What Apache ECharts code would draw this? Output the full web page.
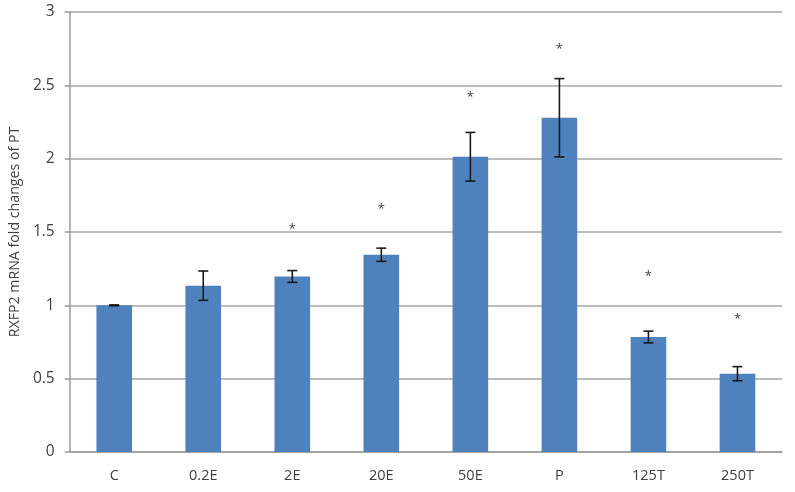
<!DOCTYPE html>
<html>
<head>
<meta charset="utf-8">
<script src="https://cdn.jsdelivr.net/npm/echarts@6/dist/echarts.min.js"></script>
<style>
  html, body { margin: 0; padding: 0; background: #ffffff; }
  #chart { width: 795px; height: 492px; }
</style>
</head>
<body>
<div id="chart"></div>
<script>
var categories = ['C', '0.2E', '2E', '20E', '50E', 'P', '125T', '250T'];
var foldChange = [1.0, 1.134, 1.197, 1.345, 2.013, 2.279, 0.784, 0.534];
var errorSize = [0.003, 0.1, 0.04, 0.045, 0.166, 0.267, 0.04, 0.048];
var asteriskLevel = [null, null, 1.536, 1.677, 2.436, 2.768, 1.218, 0.922];
var yTicks = [0, 0.5, 1, 1.5, 2, 2.5, 3];

var FONT = '"Open Sans", Lato, sans-serif';

var errorData = categories.map(function (c, i) {
  return [i, foldChange[i] - errorSize[i], foldChange[i] + errorSize[i]];
});
var starData = [];
categories.forEach(function (c, i) {
  if (asteriskLevel[i] != null) starData.push([i, asteriskLevel[i]]);
});

var chart = echarts.init(document.getElementById('chart'), null, { renderer: 'canvas' });
chart.setOption({
  animation: false,
  backgroundColor: '#ffffff',
  grid: { left: 69, right: 13, top: 12, bottom: 40, containLabel: false },
  xAxis: {
    type: 'category',
    data: categories,
    axisLine: { show: true, lineStyle: { color: '#999999', width: 1.5 } },
    axisTick: { show: false },
    axisLabel: { color: '#404040', fontSize: 14.5, fontFamily: FONT, margin: 16 },
    splitLine: { show: false }
  },
  yAxis: {
    type: 'value',
    min: yTicks[0],
    max: yTicks[yTicks.length - 1],
    interval: 0.5,
    name: 'RXFP2 mRNA fold changes of PT',
    nameLocation: 'middle',
    nameGap: 42,
    nameRotate: 90,
    nameTextStyle: { color: '#404040', fontSize: 14.2, fontFamily: FONT },
    axisLine: { show: true, lineStyle: { color: '#999999', width: 1.5 } },
    axisTick: { show: true, length: 5, lineStyle: { color: '#999999', width: 1.5 } },
    axisLabel: { color: '#404040', fontSize: 15.5, fontFamily: FONT, margin: 15 },
    splitLine: { show: true, lineStyle: { color: '#a6a6a6', width: 1.5 } }
  },
  series: [
    {
      type: 'bar',
      data: foldChange,
      barWidth: '40%',
      itemStyle: { color: '#4f81bd' },
      z: 2
    },
    {
      type: 'custom',
      data: errorData,
      z: 3,
      renderItem: function (params, api) {
        var x = api.coord([api.value(0), api.value(1)])[0];
        var lo = api.coord([api.value(0), api.value(1)])[1];
        var hi = api.coord([api.value(0), api.value(2)])[1];
        var hw = 5;
        var style = { stroke: '#1a1a1a', lineWidth: 1.6 };
        return {
          type: 'group',
          children: [
            { type: 'line', shape: { x1: x, y1: lo, x2: x, y2: hi }, style: style },
            { type: 'line', shape: { x1: x - hw, y1: lo, x2: x + hw, y2: lo }, style: style },
            { type: 'line', shape: { x1: x - hw, y1: hi, x2: x + hw, y2: hi }, style: style }
          ]
        };
      }
    },
    {
      type: 'custom',
      data: starData,
      z: 3,
      renderItem: function (params, api) {
        var p = api.coord([api.value(0), api.value(1)]);
        return {
          type: 'text',
          x: p[0],
          y: p[1] + 3,
          style: {
            text: '*',
            fill: '#404040',
            font: '13px ' + FONT,
            align: 'center',
            verticalAlign: 'middle'
          }
        };
      }
    }
  ]
});
</script>
</body>
</html>
